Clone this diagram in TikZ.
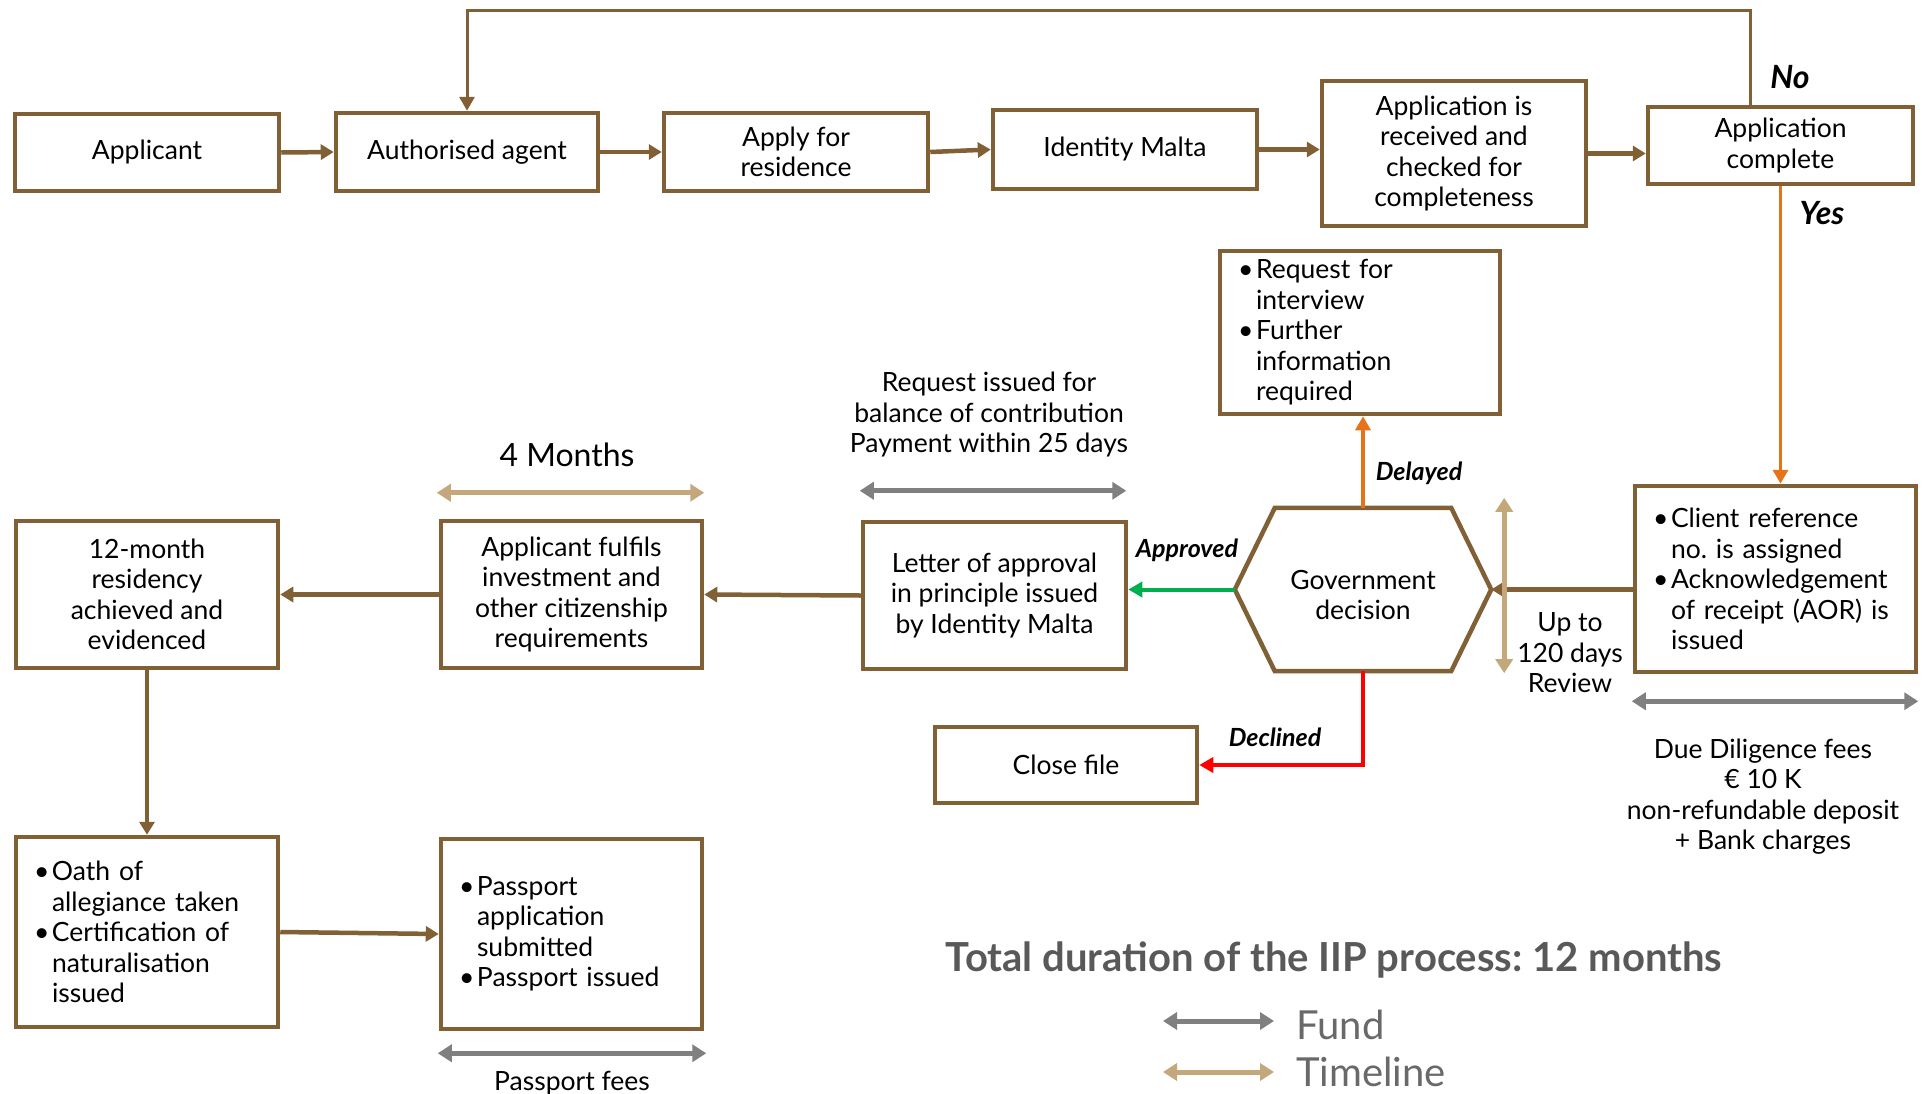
\documentclass[tikz,border=0pt]{standalone}
\usepackage{fontspec}
\setmainfont{Lato}
\usetikzlibrary{arrows.meta,calc}
\definecolor{brn}{RGB}{128,96,52}
\definecolor{tan}{RGB}{196,168,124}
\definecolor{gry}{RGB}{128,128,128}
\definecolor{org}{RGB}{230,115,25}
\definecolor{grn}{RGB}{0,176,80}
\definecolor{redd}{RGB}{255,0,0}
\definecolor{txtgray}{RGB}{89,89,89}
\definecolor{leggray}{RGB}{105,105,105}
\newcommand\bulitem{\makebox[18pt][l]{\textbullet}}
\newcommand\bulind{\hspace*{18pt}}
\frenchspacing
\begin{document}
\begin{tikzpicture}[x=1pt,y=-1pt,
  box/.style={draw=brn, line width=4.5pt, fill=white, align=center, inner sep=0pt,
    font=\fontsize{26.5}{30.5}\selectfont, text=black},
  bbox/.style={box, align=left, inner xsep=18pt, inner ysep=0pt, text width=#1},
  conn/.style={draw=brn, line width=4.5pt, -{Triangle[length=13pt,width=15pt]}},
  fb/.style={draw=brn, line width=3pt, -{Triangle[length=14pt,width=15pt]}},
  orng/.style={draw=org, line width=3.5pt, -{Triangle[length=14pt,width=15pt]}},
  grnarr/.style={draw=grn, line width=4pt, -{Triangle[length=14pt,width=15pt]}},
  redarr/.style={draw=redd, line width=4pt, -{Triangle[length=14pt,width=15pt]}},
  fundarr/.style={draw=gry, line width=5pt, {Triangle[length=14pt,width=17pt]}-{Triangle[length=14pt,width=17pt]}},
  timearr/.style={draw=tan, line width=5pt, {Triangle[length=14pt,width=17pt]}-{Triangle[length=14pt,width=17pt]}},
  lab/.style={font=\fontsize{25}{28}\selectfont\bfseries\itshape, inner sep=0pt},
  biglab/.style={font=\fontsize{32}{36}\selectfont\bfseries\itshape, inner sep=0pt},
  plain/.style={align=center, inner sep=0pt, font=\fontsize{26.5}{30.5}\selectfont}
]
\path[use as bounding box, fill=white] (0,0) rectangle (1930,1093);

% top row
\node[box, minimum width=264, minimum height=77] (applicant) at (147,152.5) {Applicant};
\node[box, minimum width=262, minimum height=78] (agent) at (467,152) {Authorised agent};
\node[box, minimum width=264, minimum height=78] (apply) at (796,152) {Apply for\\residence};
\node[box, minimum width=264, minimum height=79] (identity) at (1125,149.5) {Identity Malta};
\node[box, minimum width=264, minimum height=145] (received) at (1454,153.5) {Application is\\received and\\checked for\\completeness};
\node[box, minimum width=265, minimum height=77] (complete) at (1780.5,145.5) {Application\\complete};

% middle
\node[bbox=244, minimum width=280, minimum height=163] (request) at (1360,332.5)
  {\bulitem Request for\\\bulind interview\\\bulitem Further\\\bulind information\\\bulind required};
\node[bbox=245, minimum width=281, minimum height=186] (client) at (1775.5,579)
  {\bulitem Client reference\\\bulind no. is assigned\\\bulitem Acknowledgement\\\bulind of receipt (AOR) is\\\bulind issued};

\node[align=center, inner sep=0pt, minimum width=256, minimum height=163,
  font=\fontsize{26.5}{30.5}\selectfont] (hex) at (1363,589.5) {};
\node[align=center, inner sep=0pt, font=\fontsize{26.5}{30.5}\selectfont] (hextext) at (1363,595) {Government\\decision};
\draw[draw=brn, line width=4.5pt, line join=miter]
  (hex.west) -- ($(hex.north west)+(40,0)$) -- ($(hex.north east)+(-40,0)$) -- (hex.east)
  -- ($(hex.south east)+(-40,0)$) -- ($(hex.south west)+(40,0)$) -- cycle;

\node[box, minimum width=263, minimum height=147] (letter) at (994.5,595.5) {Letter of approval\\in principle issued\\by Identity Malta};
\node[box, minimum width=261, minimum height=147] (fulfils) at (571.5,594.5) {Applicant fulfils\\investment and\\other citizenship\\requirements};
\node[box, minimum width=262, minimum height=147] (residency) at (147,594.5) {12-month\\residency\\achieved and\\evidenced};
\node[box, minimum width=262, minimum height=76] (close) at (1066,765) {Close file};

% bottom
\node[bbox=226, minimum width=262, minimum height=190] (oath) at (147,932)
  {\bulitem Oath of\\\bulind allegiance taken\\\bulitem Certification of\\\bulind naturalisation\\\bulind issued};
\node[bbox=225, minimum width=261, minimum height=190] (passport) at (571.5,934)
  {\bulitem Passport\\\bulind application\\\bulind submitted\\\bulitem Passport issued};

% connectors top row
\draw[conn] (applicant.east) -- (agent.west);
\draw[conn] (agent.east) -- (apply.west);
\draw[conn] (apply.east) -- (identity.west);
\draw[conn] (identity.east) -- (identity.east -| received.west);
\draw[conn] (received.east) -- (received.east -| complete.west);

% feedback No
\coordinate (fbstart) at ($(complete.north)+(-30.5,0)$);
\coordinate (fbtop) at (0,10);
\draw[fb] (fbstart) -- (fbstart |- fbtop) -- (agent.north |- fbtop) -- (agent.north);
\node[biglab] (no) at (1790,77) {No};
\node[biglab] (yes) at (1822,213) {Yes};

% yes path
\draw[orng] (complete.south) -- (complete.south |- client.north);
\draw[conn] (client.west |- hex.east) -- (hex.east);

% decisions
\draw[orng] (hex.north) -- (hex.north |- request.south);
\node[lab] (delayed) at (1419,473) {Delayed};
\draw[grnarr] (hex.west) -- (hex.west -| letter.east);
\node[lab] (approved) at (1187,550) {Approved};
\draw[redarr] (hex.south) |- (close.east);
\node[lab] (declined) at (1275,737) {Declined};

% lower flow
\draw[conn] (letter.west) -- (fulfils.east);
\draw[conn] (fulfils.west) -- (residency.east);
\draw[conn] (residency.south) -- (oath.north);
\draw[conn] (oath.east) -- (passport.west);

% dimension arrows
\draw[fundarr] ($(letter.north west)+(-1,-29)$) -- ($(letter.north east)+(-2,-29)$);
\draw[timearr] ($(fulfils.north west)+(-2,-26)$) -- ($(fulfils.north east)+(0,-26)$);
\draw[fundarr] ($(passport.south west)+(-1,22)$) -- ($(passport.south east)+(2,22)$);
\draw[fundarr] ($(client.south west)+(-1,27)$) -- ($(client.south east)+(0,27)$);
\draw[timearr] ($(hex.north east)+(13,-10)$) -- ($(hex.south east)+(13,2)$);

% texts
\node[plain] (reqissued) at (989,415) {Request issued for\\balance of contribution\\Payment within 25 days};
\node[plain, font=\fontsize{32}{36}\selectfont] (fourm) at (567,455) {4 Months};
\node[plain] (upto) at (1570,653) {Up to\\120 days\\Review};
\node[plain] (due) at (1763,796.5) {Due Diligence fees\\€ 10 K\\non-refundable deposit\\+ Bank charges};
\node[plain] (ppfees) at (572,1083) {Passport fees};
\node[inner sep=0pt, text=txtgray, font=\fontsize{40}{46}\selectfont\bfseries] (total) at (1334,960) {Total duration of the IIP process: 12 months};

% legend
\node[anchor=west, inner sep=0pt, text=leggray, font=\fontsize{40}{46}\selectfont] (fund) at (1296,1025) {Fund};
\node[anchor=west, inner sep=0pt, text=leggray, font=\fontsize{40}{46}\selectfont] (timeline) at (1296,1072) {Timeline};
\draw[fundarr] ($(fund.west)+(-133,-4)$) -- ($(fund.west)+(-22,-4)$);
\draw[timearr] ($(timeline.west)+(-133,0)$) -- ($(timeline.west)+(-22,0)$);
\end{tikzpicture}
\end{document}
